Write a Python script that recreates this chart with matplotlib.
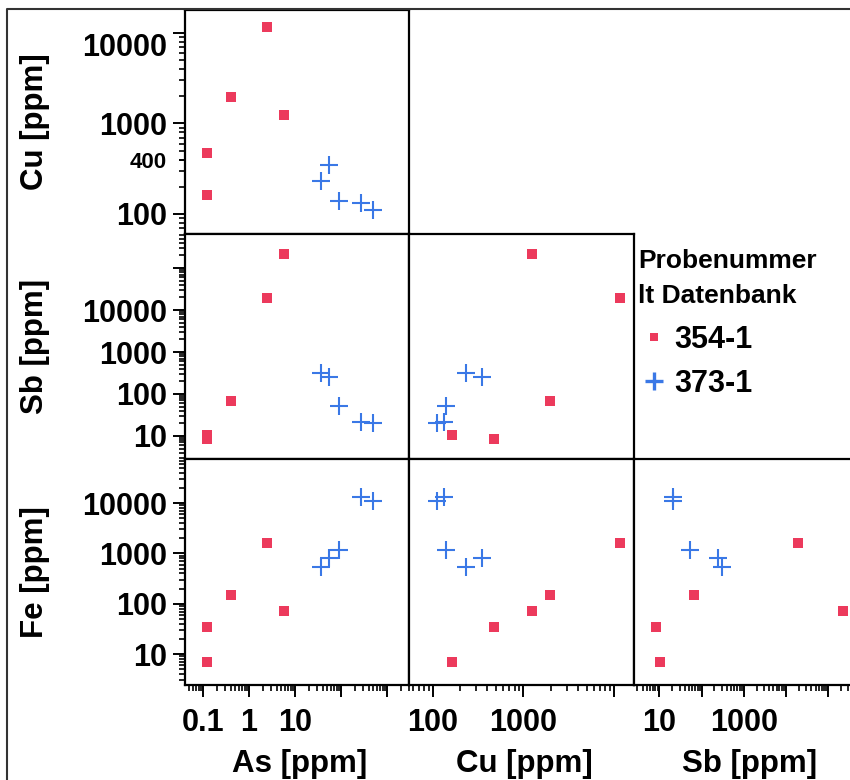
import numpy as np
import matplotlib
matplotlib.use('Agg')
import matplotlib.pyplot as plt
from matplotlib.lines import Line2D
from matplotlib.ticker import FixedLocator, LogLocator, NullFormatter

# ---------------- data ----------------
samples = ['354-1', '373-1']
row_vars = ['Cu', 'Sb', 'Fe']
col_vars = ['As', 'Cu', 'Sb']

As_354 = [0.12, 0.12, 0.41, 2.46, 5.8]
Cu_354 = [472, 162, 1960, 11600, 1230]
Sb_354 = [8.3, 10.4, 67, 19500, 221000]
Fe_354 = [34, 7.0, 147, 1590, 71]

As_373 = [55, 37, 90, 272, 497]
Cu_373 = [348, 231, 139, 131, 111]
Sb_373 = [248, 309, 52, 21, 20.5]
Fe_373 = [810, 525, 1180, 13000, 11000]

# tick values and labels
As_ticks = [0.1, 1, 10, 100, 1000]
As_ticklabels = ['0.1', '1', '10', '', '']
Cu_xticks = [100, 1000, 10000]
Cu_xticklabels = ['100', '1000', '']
Sb_xticks = [10, 100, 1000, 10000, 100000]
Sb_xticklabels = ['10', '', '1000', '', '']
Cu_yticks = [100, 400, 1000, 10000]
Cu_yticklabels = ['100', '400', '1000', '10000']
Sb_yticks = [10, 100, 1000, 10000, 100000]
Sb_yticklabels = ['10', '100', '1000', '10000', '']
Fe_yticks = [10, 100, 1000, 10000]
Fe_yticklabels = ['10', '100', '1000', '10000']

data = {
    'As': (As_354, As_373),
    'Cu': (Cu_354, Cu_373),
    'Sb': (Sb_354, Sb_373),
    'Fe': (Fe_354, Fe_373),
}
xtick_info = {'As': (As_ticks, As_ticklabels), 'Cu': (Cu_xticks, Cu_xticklabels),
              'Sb': (Sb_xticks, Sb_xticklabels)}
ytick_info = {'Cu': (Cu_yticks, Cu_yticklabels), 'Sb': (Sb_yticks, Sb_yticklabels),
              'Fe': (Fe_yticks, Fe_yticklabels)}

# ---------------- style / layout ----------------
plt.rcParams['font.family'] = ['Liberation Sans', 'DejaVu Sans']
plt.rcParams['font.weight'] = 'bold'

RED = '#EC3A5C'
BLUE = '#3A78E6'

W, H = 850, 780
fig = plt.figure(figsize=(W / 100, H / 100), dpi=100)

col_px = [(185, 409), (409, 634), (634, 859)]
row_px = [(10, 234), (234, 459), (459, 685)]

xlims = {'As': (10 ** -1.391, 10 ** 3.478), 'Cu': (10 ** 1.735, 10 ** 4.221),
         'Sb': (10 ** 0.396, 10 ** 5.73)}
ylims = {'Cu': (10 ** 1.779, 10 ** 4.254), 'Sb': (10 ** 0.452, 10 ** 5.81),
         'Fe': (10 ** 0.384, 10 ** 4.877)}

TICKFS = 22

for r, rv in enumerate(row_vars):
    for c, cv in enumerate(col_vars):
        if c > r:
            continue
        x0, x1 = col_px[c]
        y0, y1 = row_px[r]
        ax = fig.add_axes([x0 / W, 1 - y1 / H, (x1 - x0) / W, (y1 - y0) / H])
        ax.set_xscale('log')
        ax.set_yscale('log')
        xs354, xs373 = data[cv]
        ys354, ys373 = data[rv]
        ax.plot(xs354, ys354, ls='none', marker='s', ms=6.6, mew=0, color=RED)
        ax.plot(xs373, ys373, ls='none', marker='+', ms=13, mew=1.5, color=BLUE)
        ax.set_xlim(*xlims[cv])
        ax.set_ylim(*ylims[rv])
        for sp in ax.spines.values():
            sp.set_linewidth(1.6)
            sp.set_color('black')

        ax.xaxis.set_minor_locator(LogLocator(base=10, subs=np.arange(2, 10), numticks=20))
        ax.yaxis.set_minor_locator(LogLocator(base=10, subs=np.arange(2, 10), numticks=20))
        ax.xaxis.set_minor_formatter(NullFormatter())
        ax.yaxis.set_minor_formatter(NullFormatter())

        if r == 2:
            tks, lbs = xtick_info[cv]
            ax.set_xticks(tks, lbs)
            ax.tick_params(axis='x', which='major', direction='out', length=8.6, width=1.4,
                           pad=8, labelsize=TICKFS)
            ax.tick_params(axis='x', which='minor', direction='out', length=4.5, width=1.2)
        else:
            ax.tick_params(axis='x', which='both', bottom=False, labelbottom=False)
        if c == 0:
            tks, lbs = ytick_info[rv]
            ax.set_yticks(tks, lbs)
            ax.tick_params(axis='y', which='major', direction='out', length=8.6, width=1.4,
                           pad=4.3, labelsize=TICKFS)
            ax.tick_params(axis='y', which='minor', direction='out', length=4.5, width=1.2)
            if rv == 'Cu':
                mts = ax.yaxis.get_major_ticks()
                # the 400 tick: short and smaller label
                mts[1].tick1line.set_markersize(4.5)
                mts[1].label1.set_fontsize(16)
                mts[3].label1.set_verticalalignment('top')
        else:
            ax.tick_params(axis='y', which='both', left=False, labelleft=False)
        for lab in ax.get_xticklabels() + ax.get_yticklabels():
            lab.set_fontweight('bold')

# axis titles
LABFS = 22.5
for r, rv in enumerate(row_vars):
    yc = (row_px[r][0] + row_px[r][1]) / 2
    fig.text(35 / W, 1 - yc / H, f'{rv} [ppm]', rotation=90, ha='center', va='center',
             fontsize=LABFS, fontweight='bold')
for c, cv in enumerate(col_vars):
    xc = (col_px[c][0] + col_px[c][1]) / 2 + 3
    fig.text(xc / W, 1 - 772 / H, f'{cv} [ppm]', ha='center', va='baseline',
             fontsize=LABFS, fontweight='bold')

# legend
fig.text(638 / W, 1 - 261 / H, 'Probenummer', ha='left', va='center', fontsize=19,
         fontweight='bold')
fig.text(638 / W, 1 - 296 / H, 'lt Datenbank', ha='left', va='center', fontsize=19,
         fontweight='bold')
handles = [Line2D([], [], ls='none', marker='s', ms=5.8, mew=0, color=RED),
           Line2D([], [], ls='none', marker='+', ms=13, mew=2.4, color=BLUE)]
fig.legend(handles, samples, loc='upper left', bbox_to_anchor=(639 / W, 1 - 325 / H),
           frameon=False, prop={'size': 22, 'weight': 'bold'}, handlelength=1.0,
           handletextpad=0.15, labelspacing=0.45, borderaxespad=0, borderpad=0)

# outer frame
fig.add_artist(Line2D([7 / W, 7 / W, 1.0], [0.0, 1 - 9 / H, 1 - 9 / H],
                      transform=fig.transFigure, color='#333333', lw=1.5))

fig.savefig('out.png', dpi=100)
